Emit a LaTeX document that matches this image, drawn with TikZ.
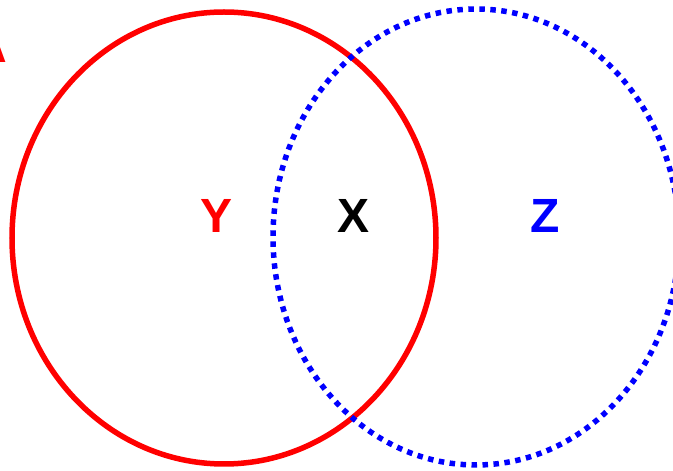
\documentclass[tikz,border=0pt]{standalone}
\usepackage{fontspec}
\setmainfont{Liberation Sans}
\begin{document}
\begin{tikzpicture}[x=1pt,y=1pt,
  lbl/.style={font=\fontsize{48}{48}\selectfont\bfseries, inner sep=0pt},
  redring/.style={draw=red, line width=5.5pt},
  bluering/.style={draw=blue, line width=5.5pt, dash pattern=on 5.5pt off 5.5pt}]
\useasboundingbox (0,0) rectangle (673,471);
\draw[redring] (224,233) ellipse [x radius=212, y radius=226];
\draw[bluering] (476,234) ellipse [x radius=203, y radius=228];
\node[lbl, text=red] (y) at (217,255) {Y};
\node[lbl, text=black] (x) at (354,255) {X};
\node[lbl, text=blue] (z) at (545,255) {Z};
\node[lbl, text=red, anchor=base] (a) at (-10,408) {A};
\end{tikzpicture}
\end{document}
